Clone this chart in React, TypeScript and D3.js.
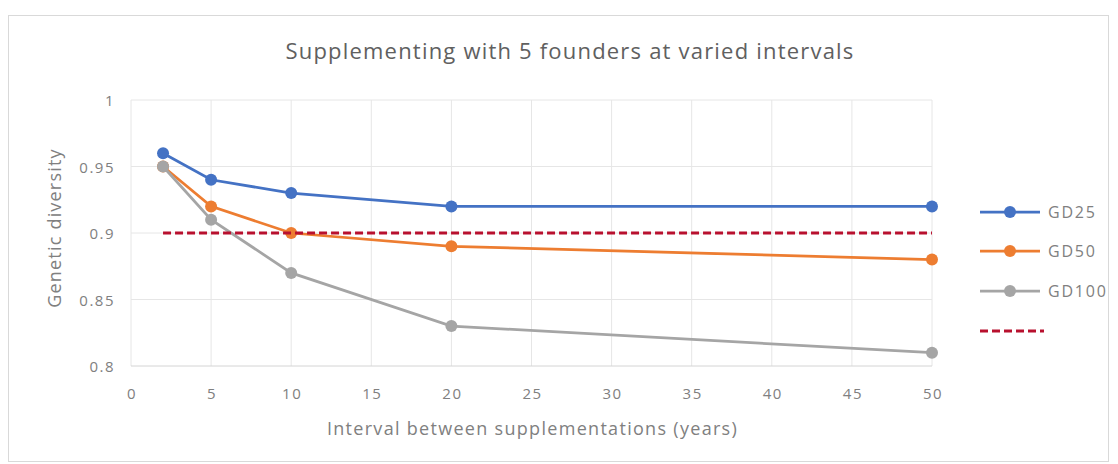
import React from 'react';
import * as d3 from 'd3';

const intervals = [2, 5, 10, 20, 50];
const gd25 = [0.96, 0.94, 0.93, 0.92, 0.92];
const gd50 = [0.95, 0.92, 0.9, 0.89, 0.88];
const gd100 = [0.95, 0.91, 0.87, 0.83, 0.81];
const threshold = [0.9, 0.9];
const thresholdX = [2, 50];
const xTicks = [0, 5, 10, 15, 20, 25, 30, 35, 40, 45, 50];
const yTicks = [0.8, 0.85, 0.9, 0.95, 1];

const series = [
    { name: 'GD25', values: gd25, color: '#4472C4' },
    { name: 'GD50', values: gd50, color: '#ED7D31' },
    { name: 'GD100', values: gd100, color: '#A5A5A5' },
];

const W = 1118;
const H = 464;
const font = '"Open Sans", "Liberation Sans", sans-serif';
const textColor = '#808080';

const App: React.FC = () => {
    const x = d3.scaleLinear().domain([0, 50]).range([131, 932]);
    const y = d3.scaleLinear().domain([0.8, 1]).range([366, 100]);

    const line = d3.line<[number, number]>()
        .x(d => x(d[0]))
        .y(d => y(d[1]));

    const legendY = [212, 251, 291, 331];

    return (
        <svg width={W} height={H} style={{ position: 'absolute', left: 0, top: 0 }}>
            <rect x={0} y={0} width={W} height={H} fill="#fff" />
            <rect x={8.5} y={15.5} width={1100} height={446} fill="#fff" stroke="#D9D9D9" />
            <text x={570} y={59} textAnchor="middle" fontFamily={font} fontSize={22} letterSpacing={1.2} fill="#606060">
                Supplementing with 5 founders at varied intervals
            </text>

            {/* grid */}
            {xTicks.map(t => (
                <line key={'gx' + t} x1={x(t)} x2={x(t)} y1={y(1)} y2={y(0.8)} stroke="#E6E6E6" strokeWidth={1} />
            ))}
            {yTicks.map(t => (
                <line key={'gy' + t} x1={x(0)} x2={x(50)} y1={y(t)} y2={y(t)} stroke={t === 0.8 ? '#D4D4D4' : '#E6E6E6'} strokeWidth={1} />
            ))}

            {/* tick labels */}
            {xTicks.map(t => (
                <text key={'tx' + t} x={x(t) + 1} y={y(0.8) + 33} textAnchor="middle" fontFamily={font} fontSize={15} letterSpacing={1.5} fill={textColor}>
                    {t}
                </text>
            ))}
            {yTicks.map(t => (
                <text key={'ty' + t} x={x(0) - 16} y={y(t) + 6} textAnchor="end" fontFamily={font} fontSize={15} letterSpacing={1.5} fill={textColor}>
                    {d3.format('~g')(t)}
                </text>
            ))}

            <text x={(x(0) + x(50)) / 2 + 1} y={435} textAnchor="middle" fontFamily={font} fontSize={18} letterSpacing={1.3} fill={textColor}>
                Interval between supplementations (years)
            </text>
            <text transform={`translate(61,228) rotate(-90)`} textAnchor="middle" fontFamily={font} fontSize={18} letterSpacing={1.2} fill={textColor}>
                Genetic diversity
            </text>

            {/* series */}
            {series.map(s => {
                const pts = intervals.map((v, i) => [v, s.values[i]] as [number, number]);
                return (
                    <g key={s.name}>
                        <path d={line(pts) || ''} fill="none" stroke={s.color} strokeWidth={2.75} />
                        {pts.map((p, i) => (
                            <circle key={i} cx={x(p[0])} cy={y(p[1])} r={6} fill={s.color} />
                        ))}
                    </g>
                );
            })}
            <path
                d={line(thresholdX.map((v, i) => [v, threshold[i]] as [number, number])) || ''}
                fill="none" stroke="#B8102E" strokeWidth={3} strokeDasharray="8,4"
            />

            {/* legend */}
            {series.map((s, i) => (
                <g key={'lg' + s.name}>
                    <line x1={980} x2={1040} y1={legendY[i]} y2={legendY[i]} stroke={s.color} strokeWidth={2.75} />
                    <circle cx={1010} cy={legendY[i]} r={6} fill={s.color} />
                    <text x={1048} y={legendY[i] + 6} fontFamily={font} fontSize={16} letterSpacing={1.8} fill={textColor}>{s.name}</text>
                </g>
            ))}
            <line x1={980} x2={1044} y1={legendY[3]} y2={legendY[3]} stroke="#B8102E" strokeWidth={3} strokeDasharray="8,4" />
        </svg>
    );
};

export default App;
